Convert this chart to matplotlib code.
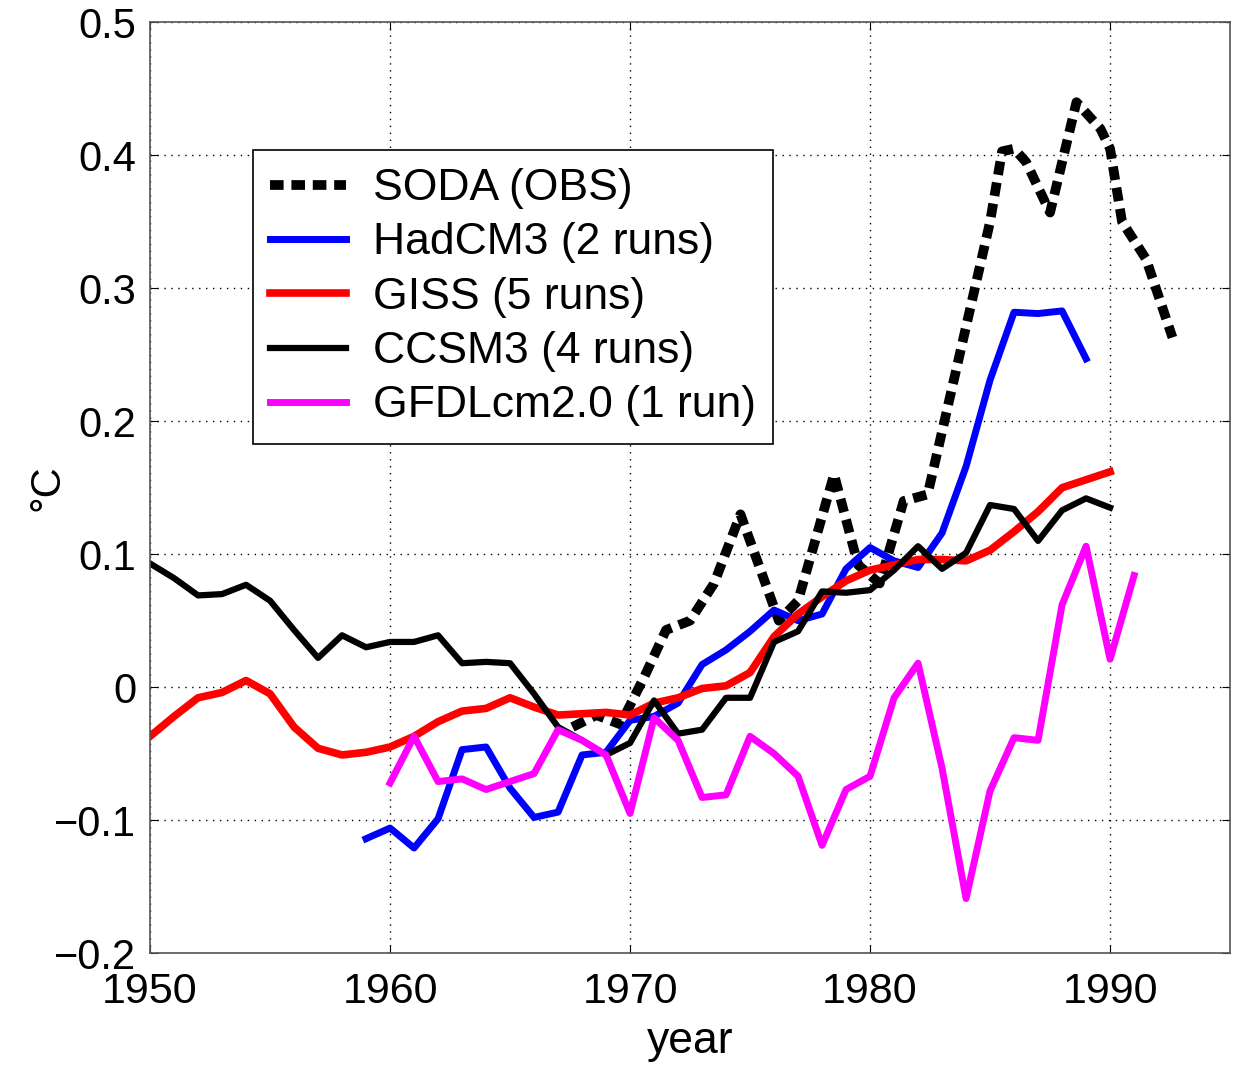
import numpy as np
import matplotlib
matplotlib.use('Agg')
import matplotlib.pyplot as plt

plt.rcParams['font.family'] = ['Liberation Sans', 'DejaVu Sans']

soda_years = [1967.6, 1968.6, 1969.6, 1970.6, 1971.5, 1972.5, 1973.5, 1974.6,
              1976.2, 1977.0, 1978.5, 1979.5, 1980.4, 1981.4, 1982.4, 1985.0,
              1985.5, 1986.0, 1986.5, 1987.5, 1988.6, 1989.6, 1990.0, 1990.5,
              1991.5, 1992.6]
soda = [-0.030, -0.021, -0.028, 0.008, 0.043, 0.050, 0.078, 0.130,
        0.050, 0.065, 0.160, 0.092, 0.078, 0.140, 0.145, 0.350,
        0.403, 0.405, 0.395, 0.357, 0.440, 0.420, 0.405, 0.350,
        0.322, 0.263]

hadcm3_years = list(range(1959, 1990))
hadcm3 = [-0.114, -0.106, -0.121, -0.099, -0.047, -0.045, -0.076, -0.098,
          -0.094, -0.051, -0.049, -0.025, -0.022, -0.012, 0.017, 0.028,
          0.042, 0.058, 0.050, 0.055, 0.089, 0.105, 0.095, 0.090,
          0.116, 0.166, 0.231, 0.282, 0.281, 0.283, 0.247]

giss_years = list(range(1950, 1991))
giss = [-0.037, -0.022, -0.008, -0.004, 0.005, -0.005, -0.030, -0.046,
        -0.051, -0.049, -0.045, -0.037, -0.026, -0.018, -0.016, -0.008,
        -0.015, -0.021, -0.020, -0.019, -0.021, -0.012, -0.008, -0.001,
        0.001, 0.011, 0.038, 0.055, 0.068, 0.080, 0.088, 0.092,
        0.096, 0.096, 0.095, 0.103, 0.117, 0.132, 0.150, 0.156, 0.162]

ccsm3_years = list(range(1950, 1991))
ccsm3 = [0.093, 0.082, 0.069, 0.070, 0.077, 0.065, 0.043, 0.022,
         0.039, 0.030, 0.034, 0.034, 0.039, 0.018, 0.019, 0.018,
         -0.005, -0.030, -0.040, -0.051, -0.042, -0.010, -0.035, -0.032,
         -0.008, -0.008, 0.034, 0.042, 0.072, 0.071, 0.073, 0.088,
         0.106, 0.089, 0.101, 0.137, 0.134, 0.110, 0.133, 0.142, 0.135]

gfdl_years = list(range(1960, 1992))
gfdl = [-0.072, -0.037, -0.071, -0.069, -0.077, -0.071, -0.065, -0.032,
        -0.040, -0.051, -0.095, -0.023, -0.040, -0.083, -0.081, -0.037,
        -0.050, -0.067, -0.119, -0.077, -0.067, -0.008, 0.018, -0.061,
        -0.159, -0.078, -0.038, -0.040, 0.062, 0.106, 0.021, 0.084]

xticks = [1950, 1960, 1970, 1980, 1990]
yticks = [-0.2, -0.1, 0, 0.1, 0.2, 0.3, 0.4, 0.5]
yticklabels = ['\u22120.2', '\u22120.1', '0', '0.1', '0.2', '0.3', '0.4', '0.5']

fig = plt.figure(figsize=(12.35, 10.67), dpi=100)
ax = fig.add_axes([0.1215, 0.1068, 0.8745, 0.8722])

ax.plot(soda_years, soda, color='k', lw=7, linestyle=(0, (1.4, 0.8)),
        label='SODA (OBS)')
ax.plot(hadcm3_years, hadcm3, color='#0000ff', lw=5, label='HadCM3 (2 runs)')
ax.plot(giss_years, giss, color='#ff0000', lw=5.5, label='GISS (5 runs)')
ax.plot(ccsm3_years, ccsm3, color='k', lw=4.5, label='CCSM3 (4 runs)')
ax.plot(gfdl_years, gfdl, color='#ff00ff', lw=5, label='GFDLcm2.0 (1 run)')

ax.set_xlim(1950, 1995)
ax.set_ylim(-0.2, 0.5)
ax.set_xticks(xticks)
ax.set_yticks(yticks)
ax.set_yticklabels(yticklabels)
ax.tick_params(direction='in', top=True, right=True, length=6)
ax.tick_params(axis='y', labelsize=30, pad=10)
ax.tick_params(axis='x', labelsize=31, pad=14)
ax.grid(True, linestyle=(0, (1, 4)), color='k', linewidth=1)
for s in ax.spines.values():
    s.set_color('#555555')
    s.set_linewidth(1.2)

ax.set_xlabel('year', fontsize=32, labelpad=6)
ax.set_ylabel('\u00b0C', fontsize=30)
ax.yaxis.set_label_coords(-0.076, 0.5)

leg = ax.legend(loc='upper left', bbox_to_anchor=(0.095, 0.8625), borderaxespad=0,
                fontsize=32, handlelength=1.7, handletextpad=0.6, labelspacing=0.3,
                fancybox=False, edgecolor='k', framealpha=1, borderpad=0.4)
leg.get_frame().set_linewidth(1.2)

fig.savefig('out.png', dpi=100)
